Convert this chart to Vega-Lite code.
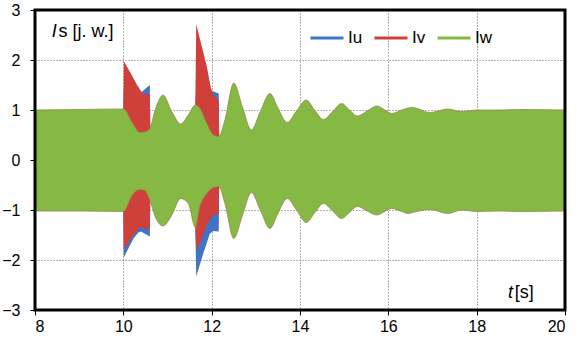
{
  "$schema": "https://vega.github.io/schema/vega-lite/v6.json",
  "width": 530,
  "height": 300,
  "autosize": {"type": "none"},
  "padding": {"left": 35, "top": 10, "right": 12, "bottom": 34},
  "background": "white",
  "config": {
    "view": {"stroke": null},
    "font": "Liberation Sans",
    "axis": {
      "domain": false,
      "grid": true,
      "gridDash": [1, 2],
      "gridColor": "#666666",
      "gridWidth": 1,
      "tickColor": "#000000",
      "tickSize": 5,
      "labelColor": "#000000",
      "labelFontSize": 16,
      "labelFont": "Liberation Sans",
      "title": null
    }
  },
  "datasets": {
    "env": [
      {"s": "Iw", "seg": "g", "t": 8.0, "lo": -1.02, "hi": 1.0},
      {"s": "Iw", "seg": "g", "t": 9.0, "lo": -1.02, "hi": 1.01},
      {"s": "Iw", "seg": "g", "t": 10.0, "lo": -1.03, "hi": 1.02},
      {"s": "Iw", "seg": "g", "t": 10.2, "lo": -0.7, "hi": 0.75},
      {"s": "Iw", "seg": "g", "t": 10.37, "lo": -0.59, "hi": 0.55},
      {"s": "Iw", "seg": "g", "t": 10.49, "lo": -0.61, "hi": 0.56},
      {"s": "Iw", "seg": "g", "t": 10.6, "lo": -0.8, "hi": 0.63},
      {"s": "Iw", "seg": "g", "t": 10.72, "lo": -1.13, "hi": 1.0},
      {"s": "Iw", "seg": "g", "t": 10.9, "lo": -1.32, "hi": 1.3},
      {"s": "Iw", "seg": "g", "t": 11.08, "lo": -1.13, "hi": 1.0},
      {"s": "Iw", "seg": "g", "t": 11.3, "lo": -0.77, "hi": 0.72},
      {"s": "Iw", "seg": "g", "t": 11.47, "lo": -0.87, "hi": 0.9},
      {"s": "Iw", "seg": "g", "t": 11.63, "lo": -1.35, "hi": 1.1},
      {"s": "Iw", "seg": "g", "t": 11.72, "lo": -0.97, "hi": 1.05},
      {"s": "Iw", "seg": "g", "t": 11.89, "lo": -0.67, "hi": 0.73},
      {"s": "Iw", "seg": "g", "t": 12.04, "lo": -0.55, "hi": 0.5},
      {"s": "Iw", "seg": "g", "t": 12.16, "lo": -0.53, "hi": 0.47},
      {"s": "Iw", "seg": "g", "t": 12.3, "lo": -0.87, "hi": 0.8},
      {"s": "Iw", "seg": "g", "t": 12.5, "lo": -1.57, "hi": 1.54},
      {"s": "Iw", "seg": "g", "t": 12.7, "lo": -1.1, "hi": 1.05},
      {"s": "Iw", "seg": "g", "t": 12.9, "lo": -0.65, "hi": 0.6},
      {"s": "Iw", "seg": "g", "t": 13.1, "lo": -1.0, "hi": 0.97},
      {"s": "Iw", "seg": "g", "t": 13.32, "lo": -1.37, "hi": 1.33},
      {"s": "Iw", "seg": "g", "t": 13.5, "lo": -1.07, "hi": 1.04},
      {"s": "Iw", "seg": "g", "t": 13.71, "lo": -0.77, "hi": 0.75},
      {"s": "Iw", "seg": "g", "t": 13.92, "lo": -1.0, "hi": 0.98},
      {"s": "Iw", "seg": "g", "t": 14.14, "lo": -1.25, "hi": 1.2},
      {"s": "Iw", "seg": "g", "t": 14.33, "lo": -1.06, "hi": 1.0},
      {"s": "Iw", "seg": "g", "t": 14.53, "lo": -0.87, "hi": 0.81},
      {"s": "Iw", "seg": "g", "t": 14.74, "lo": -1.02, "hi": 0.97},
      {"s": "Iw", "seg": "g", "t": 14.94, "lo": -1.17, "hi": 1.13},
      {"s": "Iw", "seg": "g", "t": 15.12, "lo": -1.05, "hi": 1.0},
      {"s": "Iw", "seg": "g", "t": 15.3, "lo": -0.93, "hi": 0.88},
      {"s": "Iw", "seg": "g", "t": 15.52, "lo": -1.02, "hi": 0.98},
      {"s": "Iw", "seg": "g", "t": 15.74, "lo": -1.1, "hi": 1.08},
      {"s": "Iw", "seg": "g", "t": 15.92, "lo": -1.03, "hi": 1.0},
      {"s": "Iw", "seg": "g", "t": 16.08, "lo": -0.97, "hi": 0.93},
      {"s": "Iw", "seg": "g", "t": 16.3, "lo": -1.03, "hi": 1.0},
      {"s": "Iw", "seg": "g", "t": 16.45, "lo": -1.07, "hi": 1.04},
      {"s": "Iw", "seg": "g", "t": 16.55, "lo": -1.05, "hi": 1.05},
      {"s": "Iw", "seg": "g", "t": 16.94, "lo": -0.99, "hi": 0.95},
      {"s": "Iw", "seg": "g", "t": 17.35, "lo": -1.07, "hi": 1.02},
      {"s": "Iw", "seg": "g", "t": 17.66, "lo": -1.0, "hi": 0.97},
      {"s": "Iw", "seg": "g", "t": 18.0, "lo": -1.03, "hi": 1.0},
      {"s": "Iw", "seg": "g", "t": 18.5, "lo": -1.02, "hi": 1.0},
      {"s": "Iw", "seg": "g", "t": 19.0, "lo": -1.03, "hi": 1.01},
      {"s": "Iw", "seg": "g", "t": 20.0, "lo": -1.02, "hi": 1.0},

      {"s": "Iv", "seg": "a", "t": 10.0, "lo": -1.03, "hi": 1.02},
      {"s": "Iv", "seg": "a", "t": 10.01, "lo": -1.8, "hi": 1.98},
      {"s": "Iv", "seg": "a", "t": 10.19, "lo": -1.55, "hi": 1.7},
      {"s": "Iv", "seg": "a", "t": 10.34, "lo": -1.37, "hi": 1.45},
      {"s": "Iv", "seg": "a", "t": 10.45, "lo": -1.35, "hi": 1.32},
      {"s": "Iv", "seg": "a", "t": 10.6, "lo": -1.4, "hi": 1.32},
      {"s": "Iv", "seg": "a", "t": 10.61, "lo": -0.8, "hi": 0.63},
      {"s": "Iv", "seg": "b", "t": 11.63, "lo": -1.35, "hi": 1.1},
      {"s": "Iv", "seg": "b", "t": 11.65, "lo": -1.8, "hi": 2.72},
      {"s": "Iv", "seg": "b", "t": 11.74, "lo": -1.65, "hi": 2.4},
      {"s": "Iv", "seg": "b", "t": 11.89, "lo": -1.3, "hi": 1.87},
      {"s": "Iv", "seg": "b", "t": 11.98, "lo": -1.17, "hi": 1.45},
      {"s": "Iv", "seg": "b", "t": 12.04, "lo": -1.1, "hi": 1.3},
      {"s": "Iv", "seg": "b", "t": 12.16, "lo": -1.07, "hi": 1.2},
      {"s": "Iv", "seg": "b", "t": 12.17, "lo": -0.53, "hi": 0.47},

      {"s": "Iu", "seg": "a", "t": 10.0, "lo": -1.03, "hi": 1.02},
      {"s": "Iu", "seg": "a", "t": 10.01, "lo": -1.95, "hi": 1.4},
      {"s": "Iu", "seg": "a", "t": 10.23, "lo": -1.57, "hi": 1.44},
      {"s": "Iu", "seg": "a", "t": 10.34, "lo": -1.45, "hi": 1.47},
      {"s": "Iu", "seg": "a", "t": 10.4, "lo": -1.43, "hi": 1.35},
      {"s": "Iu", "seg": "a", "t": 10.6, "lo": -1.53, "hi": 1.5},
      {"s": "Iu", "seg": "a", "t": 10.61, "lo": -0.8, "hi": 0.63},
      {"s": "Iu", "seg": "b", "t": 11.63, "lo": -1.35, "hi": 1.1},
      {"s": "Iu", "seg": "b", "t": 11.65, "lo": -2.33, "hi": 1.5},
      {"s": "Iu", "seg": "b", "t": 11.81, "lo": -1.87, "hi": 1.45},
      {"s": "Iu", "seg": "b", "t": 11.96, "lo": -1.47, "hi": 1.4},
      {"s": "Iu", "seg": "b", "t": 12.04, "lo": -1.42, "hi": 1.37},
      {"s": "Iu", "seg": "b", "t": 12.16, "lo": -1.43, "hi": 1.33},
      {"s": "Iu", "seg": "b", "t": 12.17, "lo": -0.53, "hi": 0.47}
    ]
  },
  "layer": [
    {
      "data": {"name": "env"},
      "transform": [{"filter": "datum.s === 'Iu'"}],
      "mark": {"type": "area", "interpolate": "linear"},
      "encoding": {
        "x": {"field": "t", "type": "quantitative", "scale": {"domain": [8, 20], "nice": false, "zero": false},
              "axis": {"values": [8, 10, 12, 14, 16, 18, 20], "labelPadding": 3}},
        "y": {"field": "lo", "type": "quantitative", "scale": {"domain": [-3, 3], "nice": false, "zero": false},
              "axis": {"values": [-3, -2, -1, 0, 1, 2, 3], "labelPadding": 10}},
        "y2": {"field": "hi"},
        "detail": {"field": "seg"},
        "color": {
          "field": "s", "type": "nominal",
          "scale": {"domain": ["Iu", "Iv", "Iw"], "range": ["#3F74C6", "#D0403A", "#86B844"]},
          "legend": {
            "title": null,
            "orient": "none",
            "direction": "horizontal",
            "legendX": 274,
            "legendY": 10,
            "padding": 0,
            "symbolType": "stroke",
            "symbolSize": 1089,
            "symbolStrokeWidth": 3,
            "labelFontSize": 17,
            "labelFontWeight": "normal",
            "labelFont": "Liberation Sans",
            "labelColor": "#000000",
            "labelOffset": 3,
            "columnPadding": 5,
            "encode": {"symbols": {"update": {"stroke": {"scale": "color", "field": "value"}, "strokeWidth": {"value": 3}, "fill": {"value": "transparent"}}}}
          }
        }
      }
    },
    {
      "data": {"name": "env"},
      "transform": [{"filter": "datum.s === 'Iv'"}],
      "mark": {"type": "area", "interpolate": "linear"},
      "encoding": {
        "x": {"field": "t", "type": "quantitative"},
        "y": {"field": "lo", "type": "quantitative"},
        "y2": {"field": "hi"},
        "detail": {"field": "seg"},
        "color": {"field": "s", "type": "nominal"}
      }
    },
    {
      "data": {"name": "env"},
      "transform": [{"filter": "datum.s === 'Iw'"}],
      "mark": {"type": "area", "interpolate": "monotone", "stroke": "#948a4c", "strokeWidth": 1, "strokeOpacity": 0.8},
      "encoding": {
        "x": {"field": "t", "type": "quantitative"},
        "y": {"field": "lo", "type": "quantitative"},
        "y2": {"field": "hi"},
        "detail": {"field": "seg"},
        "color": {"field": "s", "type": "nominal"}
      }
    },
    {
      "data": {"values": [{"label": "I"}]},
      "mark": {"type": "text", "fontStyle": "italic", "fontSize": 18, "align": "left", "baseline": "alphabetic", "font": "Liberation Sans"},
      "encoding": {"x": {"datum": 8.38}, "y": {"datum": 2.46}, "text": {"field": "label"}}
    },
    {
      "data": {"values": [{"label": "s [j. w.]"}]},
      "mark": {"type": "text", "fontSize": 18, "align": "left", "baseline": "alphabetic", "font": "Liberation Sans"},
      "encoding": {"x": {"datum": 8.53}, "y": {"datum": 2.46}, "text": {"field": "label"}}
    },
    {
      "data": {"values": [{"label": "t"}]},
      "mark": {"type": "text", "fontStyle": "italic", "fontSize": 18, "align": "left", "baseline": "alphabetic", "font": "Liberation Sans"},
      "encoding": {"x": {"datum": 18.71}, "y": {"datum": -2.76}, "text": {"field": "label"}}
    },
    {
      "data": {"values": [{"label": "[s]"}]},
      "mark": {"type": "text", "fontSize": 18, "align": "left", "baseline": "alphabetic", "font": "Liberation Sans"},
      "encoding": {"x": {"datum": 18.86}, "y": {"datum": -2.76}, "text": {"field": "label"}}
    },
    {
      "data": {"values": [{"frame": "plot"}]},
      "mark": {"type": "rect", "fill": null, "fillOpacity": 0, "stroke": "#000000", "strokeWidth": 3},
      "encoding": {"x": {"datum": 8}, "x2": {"datum": 20}, "y": {"datum": -3}, "y2": {"datum": 3}}
    }
  ]
}
